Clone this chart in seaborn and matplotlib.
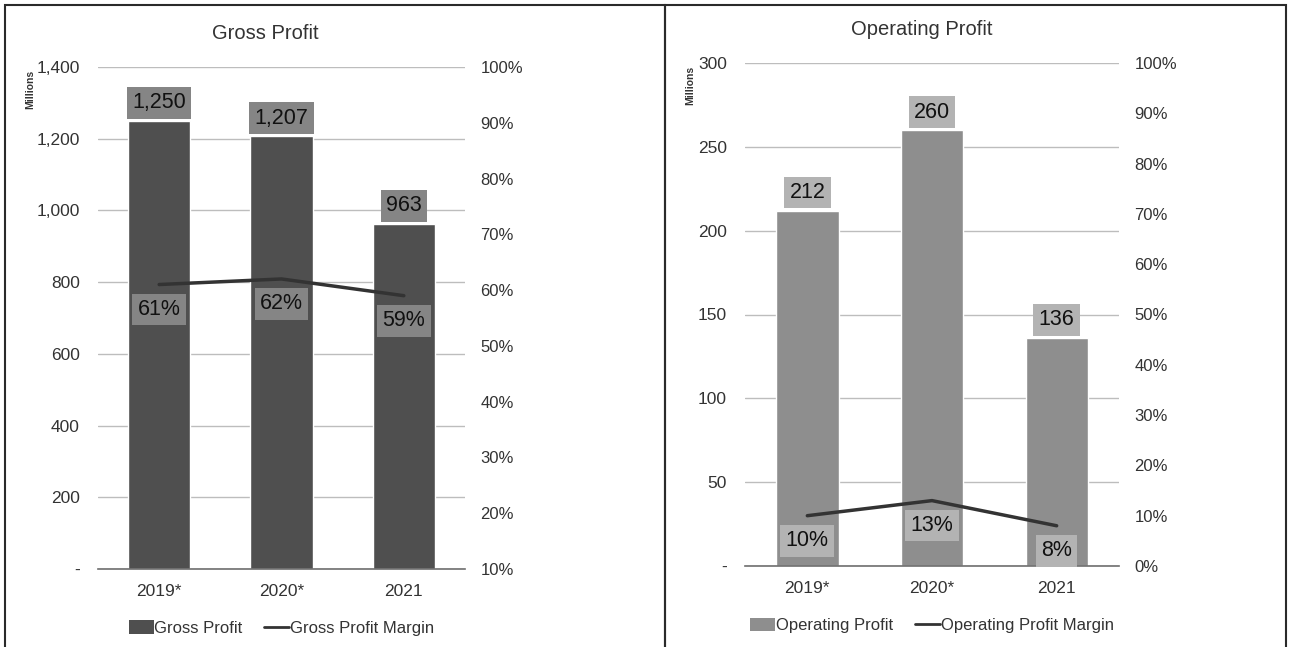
"""Gross profit / operating profit combo charts (bars + margin line)."""

import matplotlib
matplotlib.use("Agg")
import matplotlib.pyplot as plt
from matplotlib.patches import Rectangle
from matplotlib.lines import Line2D
from matplotlib.ticker import FuncFormatter
import seaborn as sns
import pandas as pd

years = ["2019*", "2020*", "2021"]
gross_profit = [1250, 1207, 963]
gross_margin = [0.61, 0.62, 0.59]
operating_profit = [212, 260, 136]
operating_margin = [0.10, 0.13, 0.08]

sns.set_theme(style="white")
plt.rcParams["font.family"] = ["Liberation Sans", "DejaVu Sans"]

fig = plt.figure(figsize=(12.9, 6.47), dpi=100)
W, H = 1290, 647


def px_axes(x0, x1, y0, y1):
    return fig.add_axes([x0 / W, 1 - y1 / H, (x1 - x0) / W, (y1 - y0) / H])


def money(v, _):
    return "-" if v == 0 else f"{v:,.0f}"


def draw_panel(ax, title, bar_label, line_label, values, margins, ymax, ystep,
               rmin, bar_color, box_color, width, title_x, millions_x):
    df = pd.DataFrame({"year": years, "value": values, "margin": margins})
    sns.barplot(data=df, x="year", y="value", color=bar_color, width=width,
                saturation=1, ax=ax, zorder=2)
    ax.set_ylim(0, ymax)
    ax.set_yticks(range(0, ymax + 1, ystep))
    ax.yaxis.set_major_formatter(FuncFormatter(money))
    ax.set_xlim(-0.5, 2.5)
    ax.grid(axis="y", color="#bdbdbd", lw=1, zorder=0)
    ax.set_axisbelow(True)
    for s in ["top", "right", "left"]:
        ax.spines[s].set_visible(False)
    ax.spines["bottom"].set_color("#6e6e6e")
    ax.spines["bottom"].set_linewidth(1.2)
    ax.set_xlabel("")
    ax.set_ylabel("")
    ax.tick_params(axis="y", length=0, pad=13, labelsize=12.5, labelcolor="#333333")
    ax.tick_params(axis="x", length=0, pad=11, labelsize=12.5, labelcolor="#333333")
    ax.set_title(title, fontsize=14.5, color="#333333", pad=20, x=title_x)

    for i, v in enumerate(values):
        ax.annotate(f"{v:,}", (i, v), xytext=(0, 13), textcoords="offset points",
                    ha="center", va="center", fontsize=15.5, color="#111111",
                    bbox=dict(boxstyle="square,pad=0.25", fc=box_color, ec="none"),
                    zorder=5)

    ax2 = ax.twinx()
    sns.lineplot(data=df, x="year", y="margin", color="#333333", lw=2.5, ax=ax2,
                 sort=False, zorder=3)
    ax2.set_ylim(rmin, 1.0)
    ax2.set_yticks([rmin + k * 0.1 for k in range(int(round((1 - rmin) * 10)) + 1)])
    ax2.yaxis.set_major_formatter(FuncFormatter(lambda v, _: f"{v:.0%}"))
    ax2.tick_params(axis="y", length=0, pad=11, labelsize=12, labelcolor="#333333")
    ax2.set_ylabel("")
    for s in ax2.spines.values():
        s.set_visible(False)
    ax2.set_xlim(-0.5, 2.5)

    for i, m in enumerate(margins):
        ax2.annotate(f"{m:.0%}", (i, m), xytext=(0, -18), textcoords="offset points",
                     ha="center", va="center", fontsize=15.5, color="#111111",
                     bbox=dict(boxstyle="square,pad=0.25", fc=box_color, ec="none"),
                     zorder=5)

    ax.text(millions_x, 0.955, "Millions", transform=ax.transAxes, rotation=90,
            fontsize=7.5, color="#333333", ha="center", va="center",
            fontweight="bold")

    handles = [Rectangle((0, 0), 1, 1, fc=bar_color, ec="none"),
               Line2D([0], [0], color="#333333", lw=2)]
    ax.legend(handles, [bar_label, line_label], loc="center",
              bbox_to_anchor=(0.5, -0.118), ncol=2, frameon=False, fontsize=12,
              handlelength=1.5, handleheight=0.9, handletextpad=0.05,
              columnspacing=1.3, labelcolor="#333333")


ax_left = px_axes(98, 465, 67, 569)
draw_panel(ax_left, "Gross Profit", "Gross Profit", "Gross Profit Margin",
           gross_profit, gross_margin, 1400, 200, 0.1, "#4f4f4f", "#858585", 0.51,
           0.455, -0.185)

ax_right = px_axes(745, 1119, 63, 566)
draw_panel(ax_right, "Operating Profit", "Operating Profit", "Operating Profit Margin",
           operating_profit, operating_margin, 300, 50, 0.0, "#8e8e8e", "#b3b3b3", 0.5,
           0.473, -0.147)

# outer frames around the two panels
for x0, x1 in [(5, 665), (665, 1286)]:
    fig.add_artist(Rectangle((x0 / W, -0.01), (x1 - x0) / W, 1 - 5 / H + 0.01,
                             transform=fig.transFigure, fill=False,
                             ec="#2a2a2a", lw=1.5))

fig.savefig("out.png", dpi=100)
